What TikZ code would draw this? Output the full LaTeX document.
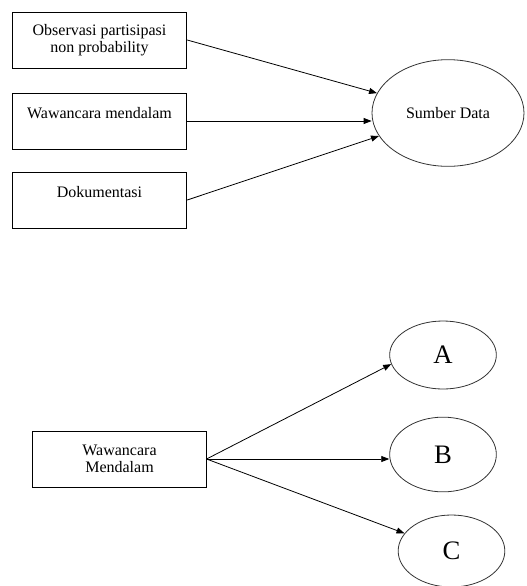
\documentclass[tikz,border=0pt]{standalone}
\usepackage{fontspec}
\setmainfont{Liberation Serif}
\usetikzlibrary{arrows.meta,shapes.geometric}

\begin{document}
\begin{tikzpicture}[
  x=0.75pt,y=-0.75pt,
  box/.style={draw,line width=0.6pt,inner sep=0pt,align=center,minimum width=131pt,minimum height=42pt,font=\fontsize{12}{12.5}\selectfont},
  oval/.style={draw=black!80,line width=0.6pt,ellipse,inner sep=0pt,minimum width=80pt,font=\fontsize{20}{22}\selectfont},
  arrow/.style={-{Triangle[length=6pt,width=4.5pt]},line width=0.6pt}
]
\useasboundingbox (0,0) rectangle (527,586);
\node[box] (obs) at (99.5,40) {Observasi partisipasi\\non probability};
\node[box] (wawancara) at (99.5,121) {Wawancara mendalam\\\mbox{}};
\node[box] (dok) at (99.5,200) {Dokumentasi\\\mbox{}};
\node[oval, minimum width=114pt, minimum height=80pt, font=\fontsize{12}{12.5}\selectfont] (sumber) at (448,113) {Sumber Data};
\draw[arrow] (obs.east) -- (sumber);
\draw[arrow] (wawancara.east) -- (sumber.west |- wawancara.east);
\draw[arrow] (dok.east) -- (sumber);

\node[box, minimum width=130pt] (mendalam) at (119.5,459) {Wawancara\\Mendalam};
\node[oval, minimum height=51pt] (a) at (443,355) {A};
\node[oval, minimum height=56pt] (b) at (443,454.5) {B};
\node[oval, minimum height=54pt] (c) at (451.5,551) {C};
\draw[arrow] (mendalam.east) -- (a.190);
\draw[arrow] (mendalam.east) -- (b.west |- mendalam.east);
\draw[arrow] (mendalam.east) -- (c);
\end{tikzpicture}
\end{document}
